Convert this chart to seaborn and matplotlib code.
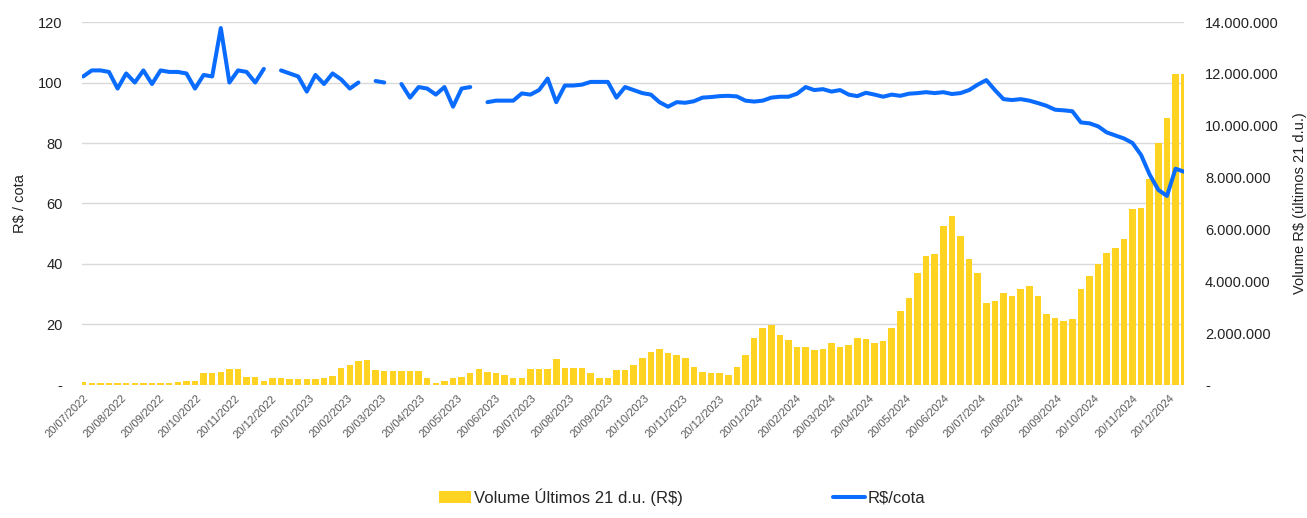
import matplotlib
matplotlib.use("Agg")
import matplotlib.pyplot as plt
from matplotlib.ticker import FuncFormatter
from matplotlib.lines import Line2D
from matplotlib.patches import Patch
import seaborn as sns
import numpy as np
import pandas as pd

# weekly readings (one value per week, Wednesday dates)
first_week = "2022-07-20"

# Volume Últimos 21 d.u., in millions of R$
volume_mm = [
    0.10, 0.07, 0.07, 0.07, 0.06, 0.07, 0.07, 0.07, 0.06, 0.07, 0.07,
    0.13, 0.17, 0.17, 0.45, 0.45, 0.50, 0.62, 0.62, 0.32, 0.32,
    0.15, 0.25, 0.27, 0.22, 0.23, 0.24, 0.24, 0.25, 0.35, 0.64,
    0.77, 0.93, 0.95, 0.58, 0.52, 0.54, 0.54, 0.54, 0.54, 0.26,
    0.06, 0.16, 0.28, 0.29, 0.45, 0.60, 0.50, 0.48, 0.40, 0.26,
    0.26, 0.62, 0.62, 0.62, 1.00, 0.67, 0.67, 0.67, 0.45, 0.28,
    0.28, 0.57, 0.56, 0.77, 1.03, 1.29, 1.39, 1.22, 1.15, 1.03,
    0.70, 0.51, 0.45, 0.45, 0.39, 0.70, 1.16, 1.80, 2.19, 2.31,
    1.93, 1.74, 1.48, 1.45, 1.35, 1.38, 1.60, 1.48, 1.55, 1.80,
    1.76, 1.60, 1.70, 2.19, 2.85, 3.37, 4.33, 4.98, 5.04, 6.13,
    6.52, 5.75, 4.85, 4.33, 3.18, 3.24, 3.56, 3.43, 3.69, 3.82,
    3.43, 2.73, 2.60, 2.47, 2.53, 3.69, 4.20, 4.66, 5.10, 5.30,
    5.62, 6.78, 6.84, 7.93, 9.35, 10.3, 12.0, 12.0,
]

# R$/cota (nan = no quote)
price = [
    102, 104, 104, 103.5, 98, 103, 100, 104, 99.5, 104, 103.5,
    103.5, 103, 98, 102.5, 102, 118, 100, 104, 103.5, 100,
    104.5, np.nan, 104, 103, 102, 97, 102.5, 99.5, 103, 101,
    98, 100, np.nan, 100.5, 100, np.nan, 99.5, 95, 98.5, 98,
    96, 98.5, 92, 98, 98.5, np.nan, 93.5, 94, 94, 94,
    96.4, 96, 97.5, 101.3, 93.5, 99, 99, 99.3, 100.2, 100.2,
    100.2, 95, 98.5, 97.5, 96.5, 96, 93.5, 92, 93.5, 93.3,
    93.8, 95, 95.2, 95.5, 95.6, 95.4, 94, 93.7, 94, 95,
    95.3, 95.3, 96.3, 98.5, 97.5, 97.8, 97, 97.5, 96, 95.5,
    96.6, 96, 95.3, 96, 95.6, 96.3, 96.5, 96.8, 96.5, 96.8,
    96.2, 96.5, 97.5, 99.3, 100.8, 97.5, 94.5, 94.2, 94.5, 94,
    93.2, 92.3, 91, 90.8, 90.5, 86.8, 86.5, 85.5, 83.5, 82.5,
    81.5, 80, 76, 69.5, 64.5, 62.5, 71.5, 70.5,
]

tick_months = [pd.Timestamp("2022-07-20") + pd.DateOffset(months=i) for i in range(30)]

dates = pd.date_range(first_week, periods=len(volume_mm), freq="7D")
df = pd.DataFrame({"date": dates, "volume": np.array(volume_mm) * 1e6, "price": price})

YELLOW = "#FFD322"
BLUE = "#0A6CFF"

sns.set_theme(style="white")
plt.rcParams["font.family"] = ["Liberation Sans", "DejaVu Sans"]

fig = plt.figure(figsize=(13.07, 5.18), dpi=100)
ax = fig.add_axes([0.0627, 0.2568, 0.8433, 0.7007])
ax2 = ax.twinx()
ax3 = ax.twinx()

# left axis: grid + labels
ax.set_ylim(0, 120)
ax.set_yticks(range(0, 121, 20))
ax.yaxis.set_major_formatter(FuncFormatter(lambda v, p: "-" if v == 0 else f"{v:.0f}"))
ax.grid(axis="y", color="#D9D9D9", linewidth=1)
ax.grid(axis="x", visible=False)
ax.tick_params(axis="y", length=0, pad=14, labelsize=10.5, labelcolor="#222222")
ax.set_ylabel("R$ / cota", fontsize=10.5, color="#222222", labelpad=8)

# right axis: volume bars
ax2.bar(df["date"], df["volume"], width=5.3, color=YELLOW, linewidth=0)
ax2.set_ylim(0, 14e6)
ax2.set_yticks(np.arange(0, 14.1e6, 2e6))
ax2.yaxis.set_major_formatter(
    FuncFormatter(lambda v, p: "-" if v == 0 else f"{v:,.0f}".replace(",", ".")))
ax2.tick_params(axis="y", length=0, pad=15, labelsize=10.5, labelcolor="#222222")
ax2.set_ylabel("Volume R$ (últimos 21 d.u.)", fontsize=10.5, color="#222222", labelpad=10)
ax2.grid(False)

# price line on top
ax3.plot(df["date"], df["price"], color=BLUE, linewidth=2.9, solid_capstyle="round")
ax3.set_ylim(0, 120)
ax3.set_yticks([])
ax3.grid(False)

ax.set_xlim(pd.Timestamp("2022-07-19"), pd.Timestamp("2025-01-01"))
ax.set_xticks(tick_months)
ax.set_xticklabels([d.strftime("%d/%m/%Y") for d in tick_months], rotation=45,
                   ha="right", rotation_mode="anchor", fontsize=8, color="#595959")
ax.tick_params(axis="x", length=0, pad=6)

for a in (ax, ax2, ax3):
    for s in a.spines.values():
        s.set_visible(False)

handles = [Patch(facecolor=YELLOW, edgecolor="none"),
           Line2D([0], [0], color=BLUE, linewidth=2.9)]
fig.legend(handles, ["Volume Últimos 21 d.u. (R$)", "R$/cota"], loc="lower center",
           bbox_to_anchor=(0.522, -0.005), ncol=2, frameon=False, fontsize=12,
           columnspacing=9, handlelength=1.9, handletextpad=0.2)

fig.savefig("out.png", dpi=100)
